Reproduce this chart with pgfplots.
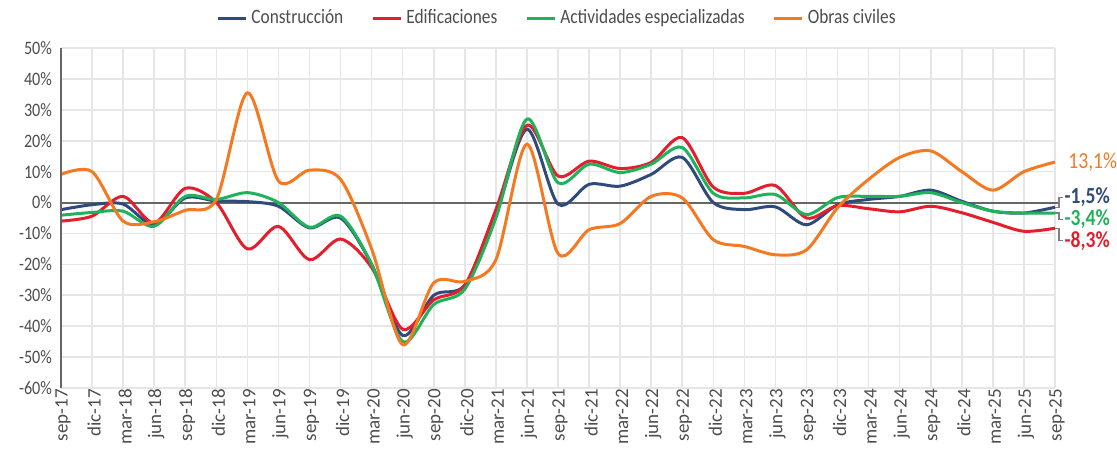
\documentclass[border=0pt]{standalone}
\usepackage{fontspec}
\setmainfont{Carlito}
\newfontfamily\condfont[FakeStretch=0.85]{Carlito}
\usepackage{pgfplots}
\usepackage{pgfplotstable}
\pgfplotsset{compat=1.18}
\definecolor{cBlue}{HTML}{2F4B7C}
\definecolor{cRed}{HTML}{E31E2D}
\definecolor{cGreen}{HTML}{1FB25A}
\definecolor{cOrange}{HTML}{F47920}
\definecolor{gridc}{HTML}{E6E6E6}
\definecolor{txt}{HTML}{4D4D4D}

\pgfplotstableread{
i blue red green orange
0 -2.3 -6 -4.1 9.1
1 -0.7 -4.4 -3.2 10
2 -0.5 2 -2.8 -6
3 -7.2 -6.6 -7.7 -6.2
4 1.5 4.6 2 -2.5
5 0.5 0 1 1
6 0.3 -15 3.2 35.5
7 -1.2 -7.7 0 7
8 -8.2 -18.5 -8 10.5
9 -5 -11.8 -4.4 7.5
10 -20 -21 -20 -15
11 -43 -41 -45 -46
12 -30 -31.5 -33 -26
13 -26.7 -26.7 -28 -25.5
14 -3.9 -2.3 -5 -18.5
15 23.7 25 27 18.9
16 -0.5 8.6 6.4 -16.5
17 5.9 13.4 12.4 -8.8
18 5.3 11 9.7 -6.8
19 9.1 13 12.4 2
20 14.6 21 17.8 1.5
21 0 5 3 -12
22 -2.3 3 1.5 -14.2
23 -1.4 5.5 2.6 -16.9
24 -7.2 -5 -3.9 -15.3
25 -0.7 -1 1.6 -1.7
26 1 -2 2 7.5
27 2 -3 2 14.6
28 4 -1.2 3.2 16.7
29 0.4 -3.3 0 10
30 -2.8 -6.4 -2.8 4
31 -3.4 -9.3 -3.4 10
32 -1.5 -8.3 -3.4 13.1
}\datatable

\begin{document}
\begin{tikzpicture}
\useasboundingbox (-30.5pt,-33.5pt) rectangle (528pt,194pt);
\begin{axis}[
  at={(0,0)}, anchor=south west,
  scale only axis, width=497pt, height=170pt,
  xmin=0, xmax=32, ymin=-60, ymax=50,
  ytick={-60,-50,...,50},
  yticklabel={\pgfmathparse{int(\tick)}\pgfmathresult\%},
  y tick label style={font=\condfont\fontsize{9.5}{10}\selectfont, text=txt, xshift=-1pt},
  xtick={0,...,32},
  xticklabels={sep-17,dic-17,mar-18,jun-18,sep-18,dic-18,mar-19,jun-19,sep-19,dic-19,mar-20,jun-20,sep-20,dic-20,mar-21,jun-21,sep-21,dic-21,mar-22,jun-22,sep-22,dic-22,mar-23,jun-23,sep-23,dic-23,mar-24,jun-24,sep-24,dic-24,mar-25,jun-25,sep-25},
  x tick label style={rotate=90, anchor=east, font=\fontsize{9.5}{10}\selectfont, text=txt, xshift=3pt, yshift=-1pt},
  grid=major, grid style={line width=0.8pt, draw=gridc},
  axis line style={draw=none},
  major tick length=0pt,
  clip=false,
  legend columns=4,
  legend style={at={(0.5,1)}, anchor=center, yshift=15pt, draw=none, fill=none,
    font=\condfont\fontsize{10.2}{11}\selectfont, text=txt,
    /tikz/every even column/.append style={column sep=12pt}},
  legend image code/.code={\draw[#1] (0pt,0pt) -- (14pt,0pt);},
  every axis plot/.append style={line width=1.5pt, smooth, tension=0.5, no markers},
]
\addplot[draw=gray!80!black, line width=1pt, forget plot, smooth=false] coordinates {(0,0) (32.15,0)};
\addplot[cBlue] table[x=i, y=blue] {\datatable};
\addlegendentry{Construcción}
\addplot[cRed] table[x=i, y=red] {\datatable};
\addlegendentry{Edificaciones}
\addplot[cGreen] table[x=i, y=green] {\datatable};
\addlegendentry{Actividades especializadas}
\addplot[cOrange] table[x=i, y=orange] {\datatable};
\addlegendentry{Obras civiles}
\draw[gray!80!black, line width=0.8pt] (axis cs:0,-60) -- (axis cs:0,50);
\draw[gray, line width=0.6pt] (axis cs:32,-1.5) -- (axis cs:32.13,-1.5) -- (axis cs:32.13,1.6) -- (axis cs:32.25,1.6);
\draw[gray, line width=0.6pt] (axis cs:32,-3.4) -- (axis cs:32.13,-3.4) -- (axis cs:32.13,-5.5) -- (axis cs:32.25,-5.5);
\draw[gray, line width=0.6pt] (axis cs:32,-8.3) -- (axis cs:32.13,-8.3) -- (axis cs:32.13,-12.4) -- (axis cs:32.25,-12.4);
\node[anchor=west, text=cOrange, font=\condfont\fontsize{11.5}{12}\selectfont, inner sep=0pt] at (axis cs:32.42,13.1) {13,1\%};
\node[anchor=west, text=cBlue, font=\condfont\bfseries\fontsize{11.5}{12}\selectfont, inner sep=0pt] at (axis cs:32.3,1.6) {-1,5\%};
\node[anchor=west, text=cGreen, font=\condfont\bfseries\fontsize{11.5}{12}\selectfont, inner sep=0pt] at (axis cs:32.3,-5.5) {-3,4\%};
\node[anchor=west, text=cRed, font=\condfont\bfseries\fontsize{11.5}{12}\selectfont, inner sep=0pt] at (axis cs:32.3,-12.4) {-8,3\%};
\end{axis}
\end{tikzpicture}
\end{document}
